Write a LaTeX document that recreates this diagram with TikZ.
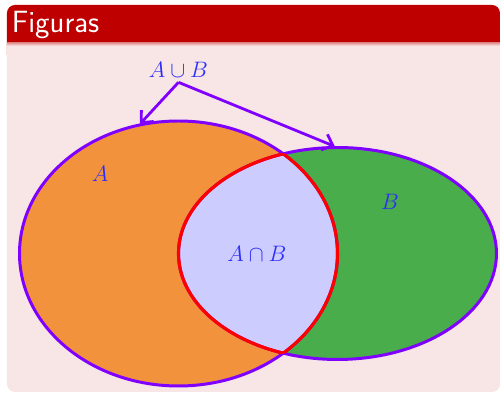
\documentclass[tikz,border=0pt]{standalone}
\usetikzlibrary{arrows.meta}
\definecolor{titlered}{RGB}{190,0,0}
\definecolor{bodypink}{RGB}{248,230,230}
\definecolor{setA}{RGB}{243,146,60}
\definecolor{setB}{RGB}{72,173,74}
\definecolor{setAB}{RGB}{204,204,255}
\definecolor{outl}{RGB}{128,0,255}
\definecolor{txt}{RGB}{45,45,250}
\tikzset{
  outline/.style={draw=outl, line width=1.6pt},
  interline/.style={draw=red, line width=1.7pt},
  arrowline/.style={outl, line width=1.5pt, -{Straight Barb[length=5pt,width=9pt,line width=1.5pt]}},
  lbl/.style={text=txt, font=\fontsize{12}{14}\selectfont, inner sep=1pt}
}
\begin{document}
\begin{tikzpicture}
\useasboundingbox (-3.368,-2.670) rectangle (6.104,4.783);
% block
\fill[titlered, rounded corners=0.15cm] (-3.236,3.6) rectangle (6.066,4.689);
\fill[bodypink, rounded corners=0.15cm] (-3.236,-2.613) rectangle (6.066,3.99);
\fill[bodypink] (-3.236,3.0) rectangle (6.066,3.99);
\shade[top color=titlered!45!bodypink, bottom color=bodypink] (-3.236,3.99) rectangle (6.066,3.92);
\node[anchor=west, text=white, font=\sffamily\fontsize{16.5}{19}\selectfont, inner sep=0pt] (title) at (-3.15,4.31) {Figuras};
% sets
\fill[setA] (0,0) ellipse [x radius=3cm, y radius=2.5cm];
\fill[setB] (3,0) ellipse [x radius=3cm, y radius=2cm];
\begin{scope}
  \clip (0,0) ellipse [x radius=3cm, y radius=2.5cm];
  \fill[setAB] (3,0) ellipse [x radius=3cm, y radius=2cm];
\end{scope}
\draw[outline] (0,0) ellipse [x radius=3cm, y radius=2.5cm];
\draw[outline] (3,0) ellipse [x radius=3cm, y radius=2cm];
\begin{scope}
  \clip (0,0) ellipse [x radius=3cm, y radius=2.5cm];
  \draw[interline] (3,0) ellipse [x radius=3cm, y radius=2cm];
\end{scope}
\begin{scope}
  \clip (3,0) ellipse [x radius=3cm, y radius=2cm];
  \draw[interline] (0,0) ellipse [x radius=3cm, y radius=2.5cm];
\end{scope}
% labels
\node[lbl] (la) at (-1.48,1.50) {$A$};
\node[lbl] (lb) at (3.99,0.97) {$B$};
\node[lbl] (lab) at (1.48,0) {$A\cap B$};
\node[lbl] (lu) at (0,3.46) {$A\cup B$};
\coordinate (topA) at (-0.73,2.44);
\coordinate (topB) at (2.95,2.02);
\coordinate (fork) at (0,3.23);
\draw[arrowline] (fork) -- (topA);
\draw[arrowline] (fork) -- (topB);
\end{tikzpicture}
\end{document}
